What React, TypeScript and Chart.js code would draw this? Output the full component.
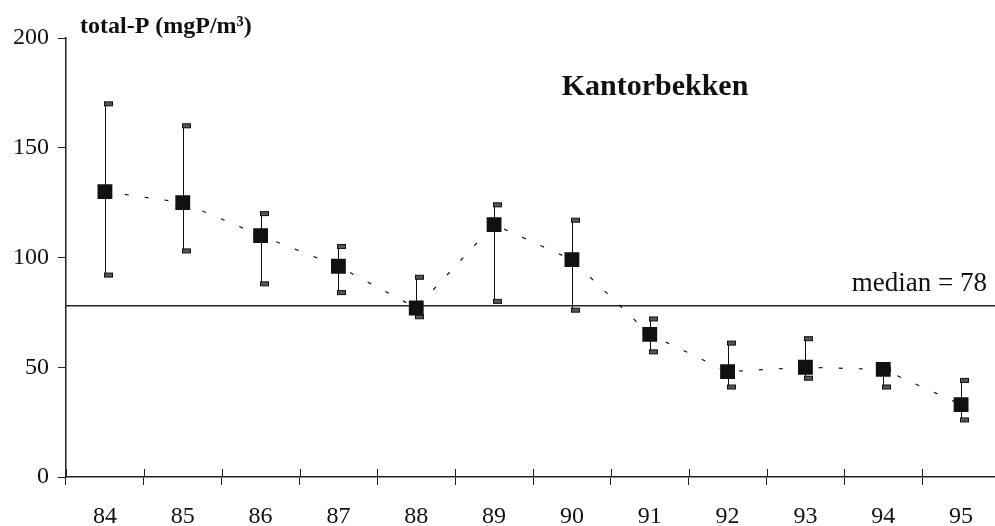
import React, { useEffect, useRef } from 'react';
import { Chart, registerables } from 'chart.js';

Chart.register(...registerables);

const years = ['84', '85', '86', '87', '88', '89', '90', '91', '92', '93', '94', '95'];
const meanP = [130, 125, 110, 96, 77, 115, 99, 65, 48, 50, 49, 33];
const highP = [170, 160, 120, 105, 91, 124, 117, 72, 61, 63, 49, 44];
const lowP = [92, 103, 88, 84, 73, 80, 76, 57, 41, 45, 41, 26];
const yTicks = [0, 50, 100, 150, 200];
const medianP = 78;

const serif = '"Liberation Serif", "Times New Roman", serif';
const ink = '#111';

// error bars, median line, crossing x ticks and the loose labels
const extras = {
  id: 'extras',
  beforeDatasetsDraw(chart: any) {
    const { ctx, chartArea, scales } = chart;
    const x = scales.x;
    const y = scales.y;
    ctx.save();

    // median
    const my = y.getPixelForValue(medianP);
    ctx.strokeStyle = '#222';
    ctx.lineWidth = 1.5;
    ctx.beginPath();
    ctx.moveTo(chartArea.left, my);
    ctx.lineTo(chartArea.right, my);
    ctx.stroke();

    // tick marks above the x axis
    ctx.lineWidth = 1;
    for (let i = 0; i <= years.length; i++) {
      const px = Math.round(x.getPixelForValue(i - 0.5)) + 0.5;
      ctx.beginPath();
      ctx.moveTo(px, chartArea.bottom);
      ctx.lineTo(px, chartArea.bottom - 8);
      ctx.stroke();
    }

    // error bars (caps sit a little right of the stem, as in the scan)
    years.forEach((_, i) => {
      const px = Math.round(x.getPixelForValue(i)) + 0.5;
      const top = y.getPixelForValue(highP[i]);
      const bot = y.getPixelForValue(lowP[i]);
      ctx.strokeStyle = ink;
      ctx.lineWidth = 1;
      ctx.beginPath();
      ctx.moveTo(px, top);
      ctx.lineTo(px, bot);
      ctx.stroke();
      [top, bot].forEach((cy) => {
        ctx.fillStyle = '#555';
        ctx.fillRect(px - 1, cy - 2, 8, 4);
        ctx.strokeRect(px - 1, cy - 2, 8, 4);
      });
    });
    ctx.restore();
  },
  afterDraw(chart: any) {
    const { ctx, scales } = chart;
    ctx.save();
    ctx.fillStyle = ink;
    ctx.textBaseline = 'alphabetic';

    ctx.font = `bold 30px ${serif}`;
    ctx.textAlign = 'center';
    ctx.fillText('Kantorbekken', 655, 95);

    ctx.font = `bold 24px ${serif}`;
    ctx.textAlign = 'left';
    ctx.fillText('total-P (mgP/m³)', 80, 33);

    ctx.font = `27px ${serif}`;
    ctx.textAlign = 'right';
    ctx.fillText('median = 78', 987, scales.y.getPixelForValue(medianP) - 15);
    ctx.restore();
  },
};

const App = () => {
  const canvasRef = useRef<HTMLCanvasElement | null>(null);

  useEffect(() => {
    const ctx = canvasRef.current?.getContext('2d') as any;
    const chart = new Chart(ctx, {
      type: 'line',
      data: {
        labels: years,
        datasets: [
          {
            data: meanP,
            borderColor: ink,
            borderWidth: 1.2,
            borderDash: [4, 16],
            pointStyle: 'rect',
            pointRadius: 10.5,
            pointBackgroundColor: ink,
            pointBorderColor: ink,
            pointBorderWidth: 0,
            tension: 0,
          },
        ],
      },
      options: {
        animation: false,
        responsive: true,
        maintainAspectRatio: false,
        devicePixelRatio: 1,
        layout: { autoPadding: false, padding: { top: 38, left: 0, right: 0, bottom: 0 } },
        scales: {
          x: {
            offset: true,
            afterFit: (scale: any) => {
              scale.height = 49;
            },
            grid: {
              offset: true,
              drawOnChartArea: false,
              tickLength: 8,
              color: '#222',
            },
            border: { color: '#222', width: 1.5 },
            ticks: {
              color: ink,
              padding: 17,
              font: { family: serif, size: 24 },
            },
          },
          y: {
            min: 0,
            max: 200,
            afterFit: (scale: any) => {
              scale.width = 66;
            },
            afterBuildTicks: (scale: any) => {
              scale.ticks = yTicks.map((v) => ({ value: v }));
            },
            grid: {
              drawOnChartArea: false,
              tickLength: 8,
              color: '#222',
            },
            border: { color: '#222', width: 1.5 },
            ticks: {
              color: ink,
              padding: 9,
              font: { family: serif, size: 24 },
            },
          },
        },
        plugins: {
          legend: { display: false },
          tooltip: { enabled: false },
        },
        events: [],
      },
      plugins: [extras],
    });

    return () => {
      chart.destroy();
    };
  }, [canvasRef]);

  // the plot runs a few pixels past the right edge of the page, as in the scan
  return (
    <div style={{ position: 'absolute', left: 0, top: 0, width: 995, height: 526, overflow: 'hidden', background: '#fff' }}>
      <div style={{ position: 'relative', width: 1000, height: 526 }}>
        <canvas ref={canvasRef} />
      </div>
    </div>
  );
};

export default App;
